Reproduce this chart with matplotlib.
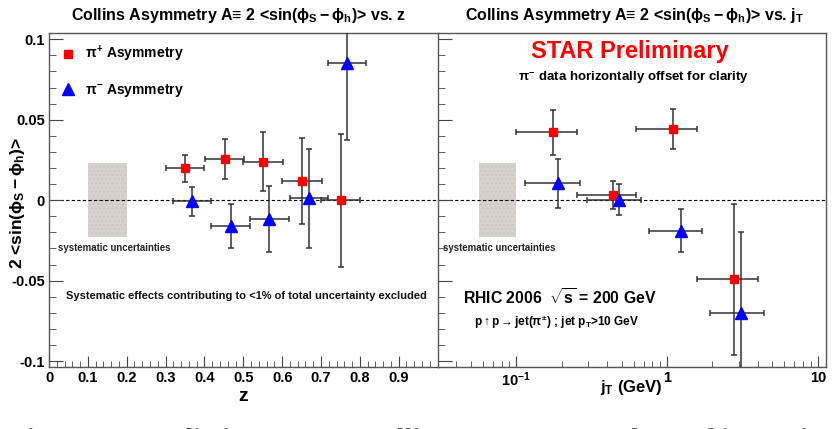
import numpy as np
import matplotlib
matplotlib.use("Agg")
import matplotlib.pyplot as plt
from matplotlib.lines import Line2D
from matplotlib.patches import Rectangle
from matplotlib.ticker import FixedLocator, MultipleLocator, LogLocator, NullFormatter

plt.rcParams['font.family'] = ['Liberation Sans', 'DejaVu Sans']
plt.rcParams['font.weight'] = 'bold'
plt.rcParams['axes.labelweight'] = 'bold'
plt.rcParams['mathtext.fontset'] = 'custom'
plt.rcParams['mathtext.rm'] = 'Liberation Sans:bold'
plt.rcParams['mathtext.it'] = 'Liberation Sans:bold'
plt.rcParams['mathtext.bf'] = 'Liberation Sans:bold'
plt.rcParams['mathtext.sf'] = 'Liberation Sans:bold'

# ---- z dependence ----
z_pip = [0.350, 0.452, 0.551, 0.651, 0.751]
a_z_pip = [0.0197, 0.0255, 0.0240, 0.0118, 0.0]
ey_z_pip = [0.0085, 0.0124, 0.0181, 0.0269, 0.0414]
ex_z_pip = [0.050, 0.050, 0.051, 0.051, 0.050]

z_pim = [0.368, 0.468, 0.567, 0.668, 0.768]
a_z_pim = [-0.0008, -0.0160, -0.0117, 0.0012, 0.0855]
ey_z_pim = [0.0091, 0.0136, 0.0204, 0.0309, 0.0480]
ex_z_pim = [0.049, 0.050, 0.050, 0.049, 0.049]

# ---- jT dependence ----
jt_pip = [0.176, 0.44, 1.10, 2.79]
jt_pip_lo = [0.0993, 0.2514, 0.625, 1.59]
jt_pip_hi = [0.252, 0.625, 1.59, 4.0]
a_jt_pip = [0.0421, 0.0031, 0.0445, -0.0493]
ey_jt_pip = [0.0142, 0.0087, 0.0124, 0.0472]

jt_pim = [0.19, 0.48, 1.23, 3.10]
jt_pim_lo = [0.1144, 0.294, 0.756, 1.92]
jt_pim_hi = [0.2654, 0.675, 1.71, 4.37]
a_jt_pim = [0.0104, 0.0004, -0.0190, -0.0700]
ey_jt_pim = [0.0152, 0.0097, 0.0133, 0.0503]

# systematic band (x range, half height)
sys_z = (0.1, 0.2)
sys_jt = (0.0564, 0.1)
sys_half = 0.023

y_ticks = [-0.1, -0.05, 0, 0.05, 0.1]
y_ticklabels = ['-0.1', '-0.05', '0', '0.05', '0.1']
z_ticks = [0, 0.1, 0.2, 0.3, 0.4, 0.5, 0.6, 0.7, 0.8, 0.9]
z_ticklabels = ['0', '0.1', '0.2', '0.3', '0.4', '0.5', '0.6', '0.7', '0.8', '0.9']

ebar_col = '#333333'
red = '#ff0000'
blue = '#0000ff'

fig = plt.figure(figsize=(8.35, 4.29), dpi=100)
ax1 = fig.add_axes([0.0587, 0.1452, 0.4653, 0.7772])
ax2 = fig.add_axes([0.524, 0.1452, 0.465, 0.7772])

for ax in (ax1, ax2):
    ax.set_ylim(-0.1035, 0.1037)
    ax.axhline(0, color='black', lw=0.8, ls=(0, (3, 2)), zorder=1)
    for s in ax.spines.values():
        s.set_color('#555555')
        s.set_linewidth(1.0)
    ax.yaxis.set_major_locator(FixedLocator(y_ticks))
    ax.yaxis.set_minor_locator(MultipleLocator(0.01))
    ax.tick_params(axis='both', which='major', direction='in', length=10,
                   color='#444444', labelsize=10.5, pad=3)
    ax.tick_params(axis='both', which='minor', direction='in', length=5,
                   color='#444444')
    ax.tick_params(axis='x', which='major', length=8)
    ax.tick_params(axis='x', which='minor', length=4)
    ax.tick_params(top=False, right=False, which='both')

# left panel
ax1.set_xlim(0, 1.0)
ax1.set_xticks(z_ticks)
ax1.set_xticklabels(z_ticklabels)
ax1.xaxis.set_minor_locator(MultipleLocator(0.02))
ax1.set_yticklabels(y_ticklabels)
ax1.spines['right'].set_visible(False)

ax1.add_patch(Rectangle((sys_z[0], -sys_half), sys_z[1] - sys_z[0], 2 * sys_half,
                        facecolor='#d8d2cc', edgecolor='#cfc8c2', hatch='....',
                        lw=0, zorder=0.5))
ax1.errorbar(z_pip, a_z_pip, yerr=ey_z_pip, xerr=ex_z_pip, fmt='s', color=red,
             ms=6, mec=red, ecolor=ebar_col, elinewidth=1.1, capsize=2.2,
             capthick=1.1, zorder=3)
ax1.errorbar(z_pim, a_z_pim, yerr=ey_z_pim, xerr=ex_z_pim, fmt='^', color=blue,
             ms=9, mec=blue, ecolor=ebar_col, elinewidth=1.1, capsize=2.2,
             capthick=1.1, zorder=3)

handles = [Line2D([], [], ls='none', marker='s', color=red, ms=6),
           Line2D([], [], ls='none', marker='^', color=blue, ms=9)]
ax1.legend(handles, [r'$\pi^{+}$ Asymmetry', r'$\pi^{-}$ Asymmetry'],
           loc='upper left', bbox_to_anchor=(-0.005, 1.005), frameon=False,
           fontsize=10, labelspacing=1.25, handlelength=1.2, handletextpad=0.6)

ax1.text(0.022, 0.356, 'systematic uncertainties', transform=ax1.transAxes,
         fontsize=6.9, va='center', ha='left', color='#222222')
ax1.text(0.045, 0.211, 'Systematic effects contributing to <1% of total uncertainty excluded',
         transform=ax1.transAxes, fontsize=8.0, va='center', ha='left',
         color='#111111')
ax1.set_xlabel('z', fontsize=14, labelpad=2)
fig.text(0.021, 0.527, r'2 <sin($\phi_{S} - \phi_{h}$)>', rotation=90,
         fontsize=12.5, ha='center', va='center')

# right panel
ax2.set_xscale('log')
ax2.set_xlim(0.03, 11.3)
ax2.xaxis.set_major_locator(FixedLocator([0.1, 1, 10]))
ax2.set_xticklabels([r'$10^{-1}$', '1', '10'])
ax2.xaxis.set_minor_locator(LogLocator(base=10, subs=np.arange(2, 10)))
ax2.xaxis.set_minor_formatter(NullFormatter())
ax2.set_yticklabels([])

ax2.add_patch(Rectangle((sys_jt[0], -sys_half), sys_jt[1] - sys_jt[0], 2 * sys_half,
                        facecolor='#d8d2cc', edgecolor='#cfc8c2', hatch='....',
                        lw=0, zorder=0.5))
xerr_pip = [np.array(jt_pip) - np.array(jt_pip_lo), np.array(jt_pip_hi) - np.array(jt_pip)]
xerr_pim = [np.array(jt_pim) - np.array(jt_pim_lo), np.array(jt_pim_hi) - np.array(jt_pim)]
ax2.errorbar(jt_pip, a_jt_pip, yerr=ey_jt_pip, xerr=xerr_pip, fmt='s', color=red,
             ms=6, mec=red, ecolor=ebar_col, elinewidth=1.1, capsize=2.2,
             capthick=1.1, zorder=3)
ax2.errorbar(jt_pim, a_jt_pim, yerr=ey_jt_pim, xerr=xerr_pim, fmt='^', color=blue,
             ms=9, mec=blue, ecolor=ebar_col, elinewidth=1.1, capsize=2.2,
             capthick=1.1, zorder=3)

ax2.text(0.015, 0.356, 'systematic uncertainties', transform=ax2.transAxes,
         fontsize=6.9, va='center', ha='left', color='#222222')
ax2.text(0.495, 0.945, 'STAR Preliminary', transform=ax2.transAxes, color=red,
         fontsize=17, fontweight='bold', ha='center', va='center')
ax2.text(0.505, 0.865, r'$\pi^{-}$ data horizontally offset for clarity',
         transform=ax2.transAxes, fontsize=9.5, ha='center', va='center')
ax2.text(0.065, 0.207, r'RHIC 2006  $\sqrt{s}$ = 200 GeV', transform=ax2.transAxes,
         fontsize=11.3, ha='left', va='center')
ax2.text(0.095, 0.132, r'p$\uparrow$p$\rightarrow$jet($\pi^{\pm}$) ; jet p$_{T}$>10 GeV',
         transform=ax2.transAxes, fontsize=8.5, ha='left', va='center')
ax2.set_xlabel(r'j$_{T}$ (GeV)', fontsize=12, labelpad=-8)

# titles
fig.text(0.286, 0.965, r'Collins Asymmetry A≡ 2 <sin($\phi_{S} - \phi_{h}$)> vs. z',
         ha='center', va='center', fontsize=11.5)
fig.text(0.760, 0.965, r'Collins Asymmetry A≡ 2 <sin($\phi_{S} - \phi_{h}$)> vs. j$_{T}$',
         ha='center', va='center', fontsize=11.5)

# clipped caption at the bottom edge
fig.text(0.008, -0.042, 'Figure 14:  Preliminary STAR Collins Asymmetry.  Relevant kinematics are marked',
         family='Liberation Serif', style='italic', fontsize=20, color='#555555',
         ha='left', va='baseline')

fig.savefig('out.png', dpi=100)
